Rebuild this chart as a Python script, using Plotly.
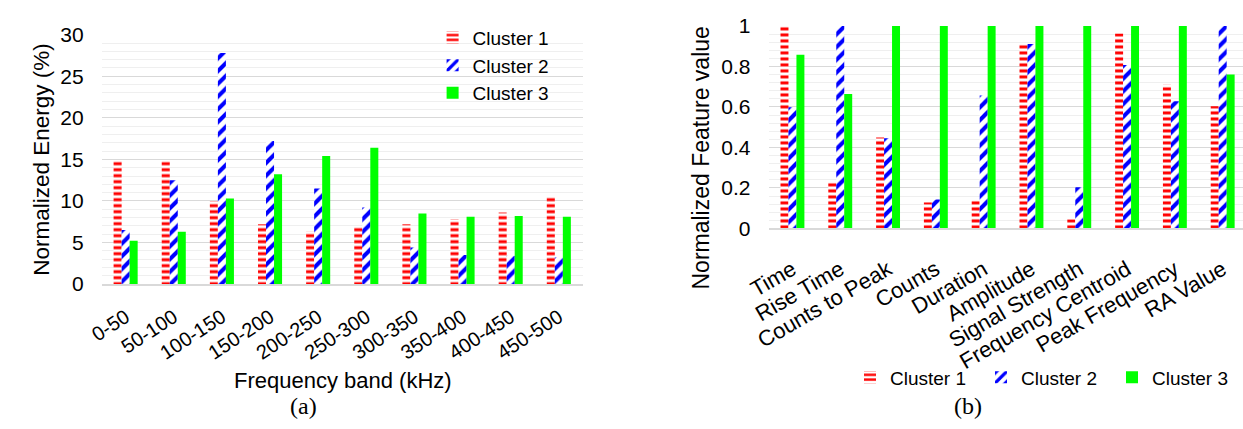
import plotly.graph_objects as go

# ---- data -------------------------------------------------------------
bands = ["0-50", "50-100", "100-150", "150-200", "200-250",
         "250-300", "300-350", "350-400", "400-450", "450-500"]
energy_c1 = [14.9, 14.9, 9.95, 7.2, 6.3, 6.9, 7.2, 7.8, 8.6, 10.5]
energy_c2 = [6.5, 12.5, 27.8, 17.2, 11.5, 9.2, 4.4, 3.5, 3.4, 3.2]
energy_c3 = [5.2, 6.3, 10.3, 13.2, 15.4, 16.4, 8.5, 8.1, 8.2, 8.1]

features = ["Time", "Rise Time", "Counts to Peak", "Counts", "Duration",
            "Amplitude", "Signal Strength", "Frequency Centroid",
            "Peak Frequency", "RA Value"]
feat_c1 = [1.0, 0.232, 0.449, 0.128, 0.139, 0.914, 0.045, 0.963, 0.71, 0.603]
feat_c2 = [0.598, 1.0, 0.445, 0.143, 0.656, 0.911, 0.203, 0.807, 0.628, 1.0]
feat_c3 = [0.858, 0.664, 1.0, 1.0, 1.0, 1.0, 1.0, 1.0, 1.0, 0.76]

cluster_names = ["Cluster 1", "Cluster 2", "Cluster 3"]

# ---- styles -----------------------------------------------------------
W, H = 1243, 429
FONT = "Liberation Sans, Arial, sans-serif"
SERIF = "Liberation Serif, Times New Roman, serif"
RED, BLUE, GREEN = "#FF0000", "#0000FF", "#00FF00"

patterns = [
    dict(shape="-", fgcolor=RED, bgcolor="white", size=6, solidity=0.5,
         fgopacity=1),
    dict(shape="/", fgcolor=BLUE, bgcolor="white", size=9, solidity=0.45,
         fgopacity=1),
    dict(shape="", fgcolor=GREEN, bgcolor=GREEN),
]
colors = [RED, BLUE, GREEN]


def px_x(p):
    return min(max(p / W, 0.0), 1.0)


def px_y(p):
    return min(max(1 - p / H, 0.0), 1.0)


fig = go.Figure()

for i, vals in enumerate([energy_c1, energy_c2, energy_c3]):
    fig.add_trace(go.Bar(
        x=bands, y=vals, name=cluster_names[i],
        marker=dict(color=colors[i], pattern=patterns[i], line=dict(width=0)),
        xaxis="x", yaxis="y", legend="legend",
        legendgroup="a%d" % i,
    ))

for i, vals in enumerate([feat_c1, feat_c2, feat_c3]):
    fig.add_trace(go.Bar(
        x=features, y=vals, name=cluster_names[i],
        marker=dict(color=colors[i], pattern=patterns[i], line=dict(width=0)),
        xaxis="x2", yaxis="y2", legend="legend2",
    ))

grid_major = "#D9D9D9"
grid_minor = "#EFEFEF"

common_x = dict(
    showgrid=False, showline=True, linecolor=grid_major, linewidth=1.5,
    ticks="", fixedrange=True,
)
common_y = dict(
    showgrid=True, gridcolor=grid_major, gridwidth=1, zeroline=False,
    showline=False, ticks="", ticklabelstandoff=17, fixedrange=True,
    tickfont=dict(family=FONT, size=21, color="black"),
)

fig.update_layout(
    width=W, height=H,
    margin=dict(l=0, r=0, t=0, b=0),
    paper_bgcolor="white", plot_bgcolor="white",
    font=dict(family=FONT, color="black"),
    barmode="group", bargap=0.5, bargroupgap=0,
    xaxis=dict(domain=[px_x(81), px_x(571)], anchor="y", tickangle=-33,
               ticklabelstandoff=12,
               tickfont=dict(family=FONT, size=20, color="black"), **common_x),
    yaxis=dict(
        domain=[px_y(287.5), px_y(24)], anchor="x",
        range=[0, 30], dtick=5,
        minor=dict(dtick=1, showgrid=True, gridcolor=grid_minor, gridwidth=1),
        **common_y,
    ),
    xaxis2=dict(domain=[px_x(760), px_x(1243)], anchor="y2", tickangle=-30,
                range=[-0.5, 9.425], ticklabelstandoff=18,
                tickfont=dict(family=FONT, size=22, color="black"), **common_x),
    yaxis2=dict(
        domain=[px_y(228.7), px_y(14.7)], anchor="x2",
        range=[0, 1], dtick=0.2, tickformat="~g",
        minor=dict(dtick=0.04, showgrid=True, gridcolor=grid_minor, gridwidth=1),
        **common_y,
    ),
    legend=dict(
        x=px_x(418), y=px_y(7), xanchor="left", yanchor="top",
        orientation="v", bgcolor="rgba(0,0,0,0)", tracegroupgap=0,
        font=dict(family=FONT, size=19, color="black"),
    ),
    legend2=dict(
        x=px_x(843), y=px_y(366), xanchor="left", yanchor="top",
        orientation="h", bgcolor="rgba(0,0,0,0)", entrywidth=86,
        font=dict(family=FONT, size=19, color="black"),
    ),
    annotations=[
        # axis titles
        dict(text="Normalized Energy (%)", x=px_x(20), y=px_y(155.5),
             xref="paper", yref="paper", showarrow=False, textangle=-90,
             xanchor="center", yanchor="middle",
             font=dict(family=FONT, size=22.5, color="black")),
        dict(text="Normalized Feature value", x=px_x(691), y=px_y(154),
             xref="paper", yref="paper", showarrow=False, textangle=-90,
             xanchor="center", yanchor="middle",
             font=dict(family=FONT, size=23, color="black")),
        dict(text="Frequency band (kHz)", x=px_x(327), y=px_y(389),
             xref="paper", yref="paper", showarrow=False,
             xanchor="center", yanchor="middle",
             font=dict(family=FONT, size=22, color="black")),
        # panel captions
        dict(text="(a)", x=px_x(287), y=px_y(416),
             xref="paper", yref="paper", showarrow=False,
             xanchor="center", yanchor="middle",
             font=dict(family=SERIF, size=24, color="black")),
        dict(text="(b)", x=px_x(963), y=px_y(416),
             xref="paper", yref="paper", showarrow=False,
             xanchor="center", yanchor="middle",
             font=dict(family=SERIF, size=24, color="black")),
    ],
)

fig.write_html("out.html", config=dict(displayModeBar=False))
